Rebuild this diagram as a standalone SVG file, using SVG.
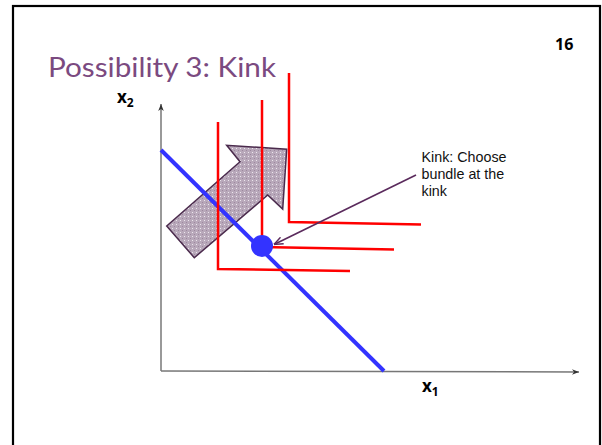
<svg xmlns="http://www.w3.org/2000/svg" width="602" height="445" viewBox="0 0 602 445">
<defs>
<style>
.frame{fill:none;stroke:#000;stroke-width:2.2}
.axis{fill:none;stroke:#777;stroke-width:1.5}
.red{fill:none;stroke:#ff0000;stroke-width:2.5}
.lbl{font-family:"Open Sans","Liberation Sans",sans-serif;font-weight:bold;fill:#000}
.note{font-family:"Liberation Sans",Arial,sans-serif;font-size:14.3px;fill:#111}
</style>
<marker id="ax" viewBox="0 0 10 10" refX="10" refY="5" markerWidth="7" markerHeight="7" markerUnits="userSpaceOnUse" orient="auto">
<path d="M0,1 L10,5 L0,9 L3,5 Z" fill="#333"/>
</marker>
<marker id="ca" viewBox="0 0 10 10" refX="10" refY="5" markerWidth="9" markerHeight="9" markerUnits="userSpaceOnUse" orient="auto">
<path d="M0,1 L10,5 L0,9" fill="none" stroke="#5a2a5c" stroke-width="1.6"/>
</marker>
<pattern id="hatch" width="4" height="4" patternUnits="userSpaceOnUse">
<rect width="4" height="4" fill="#b8a8ba"/>
<rect x="0" y="0" width="1" height="1" fill="#ece6ed"/>
<rect x="2" y="2" width="1" height="1" fill="#9c889e"/>
</pattern>
</defs>
<rect class="frame" x="13" y="6" width="587" height="450"/>
<text x="48" y="77" font-family="Lato,'Open Sans',sans-serif" font-size="26" fill="#7b4a80" textLength="228" lengthAdjust="spacingAndGlyphs">Possibility 3: Kink</text>
<text x="555" y="50" font-family="'Open Sans','Liberation Sans',sans-serif" font-weight="bold" font-size="16" fill="#000">16</text>
<g id="axes">
<line class="axis" x1="161" y1="371" x2="161" y2="104" marker-end="url(#ax)"/>
<line class="axis" x1="161" y1="371" x2="579" y2="372" marker-end="url(#ax)"/>
</g>
<text class="lbl" x="117" y="103" font-size="17">x<tspan font-size="12" dy="4">2</tspan></text>
<text class="lbl" x="422" y="392" font-size="17">x<tspan font-size="12" dy="4">1</tspan></text>
<g id="arrow-shape">
<polygon points="166.7,226 194.3,257.7 267.7,195 282.7,209 286.7,149.3 226.7,145.3 240,161.7" fill="url(#hatch)" stroke="#4a2a4c" stroke-width="1.5" stroke-linejoin="miter"/>
</g>
<g id="budget">
<line x1="161" y1="150" x2="384" y2="371" stroke="#3333ff" stroke-width="4"/>
</g>
<g id="indifference">
<polyline class="red" points="218,122 218,269 350,271"/>
<polyline class="red" points="262,100 262,247 394,249.5"/>
<polyline class="red" points="289,73 289,222 421,224.5"/>
</g>
<g id="bundle">
<circle cx="262" cy="246" r="11" fill="#3333ff"/>
</g>
<g id="connectors">
<line x1="416" y1="175" x2="274" y2="244.5" stroke="#5a2a5c" stroke-width="1.6" marker-end="url(#ca)"/>
</g>
<g id="note">
<text class="note" x="421.5" y="162">Kink: Choose</text>
<text class="note" x="421.5" y="179">bundle at the</text>
<text class="note" x="421.5" y="195.5">kink</text>
</g>
</svg>
